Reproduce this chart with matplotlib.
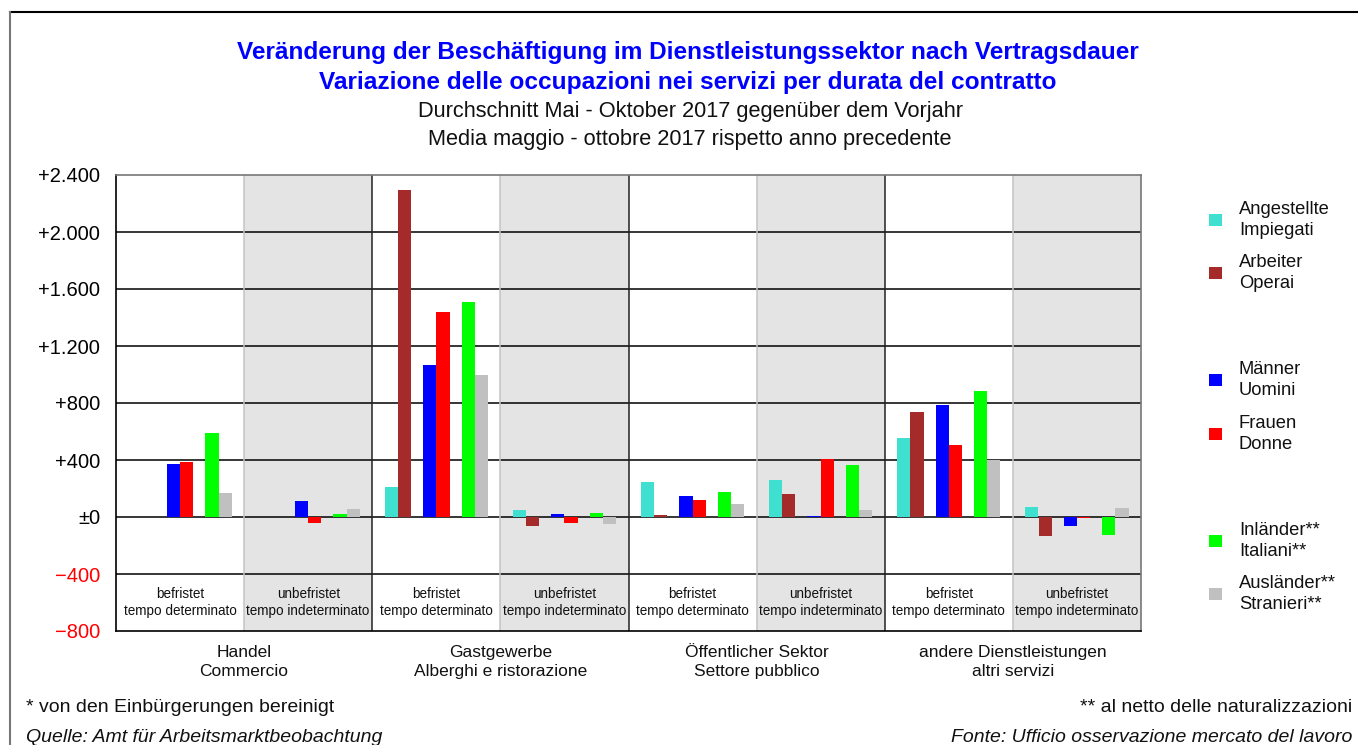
import numpy as np
import matplotlib
matplotlib.use("Agg")
import matplotlib.pyplot as plt
from matplotlib.patches import Rectangle
from matplotlib.lines import Line2D

plt.rcParams['font.family'] = ['Liberation Sans', 'DejaVu Sans']

# ---- data ----
sectors = ["Handel\nCommercio", "Gastgewerbe\nAlberghi e ristorazione",
           "Öffentlicher Sektor\nSettore pubblico", "andere Dienstleistungen\naltri servizi"]
contracts = ["befristet\ntempo determinato", "unbefristet\ntempo indeterminato"]

series_labels = ["Angestellte\nImpiegati", "Arbeiter\nOperai", "Männer\nUomini",
                 "Frauen\nDonne", "Inländer**\nItaliani**", "Ausländer**\nStranieri**"]
nan = np.nan
angestellte = [nan, nan, 208, 47, 249, 259, 551, 70]
arbeiter    = [nan, nan, 2298, -65, 16, 158, 737, -134]
maenner     = [372, 112, 1070, 21, 145, 9, 784, -63]
frauen      = [386, -40, 1437, -42, 120, 409, 504, -7]
inlaender   = [590, 19, 1507, 28, 176, 367, 887, -125]
auslaender  = [168, 56, 995, -51, 92, 52, 401, 61]
series = [angestellte, arbeiter, maenner, frauen, inlaender, auslaender]
colors = ["#40e0d0", "#a52a2a", "#0000ff", "#ff0000", "#00ff00", "#c0c0c0"]

yticks = [-800, -400, 0, 400, 800, 1200, 1600, 2000, 2400]
ytick_labels = ["\u2212800", "\u2212400", "±0", "+400", "+800", "+1.200", "+1.600", "+2.000", "+2.400"]

# ---- figure ----
W, H = 1358, 745
fig = plt.figure(figsize=(W / 100, H / 100), dpi=100)
ax = fig.add_axes([116 / W, 1 - 631 / H, (1141 - 116) / W, (631 - 175) / H])

npan = len(sectors) * 2
ax.set_xlim(0, npan)
ax.set_ylim(-800, 2400)

# shading for unbefristet panels
for i in range(1, npan, 2):
    ax.axvspan(i, i + 1, color="#e4e4e4", zorder=0, lw=0)

# horizontal grid lines
for yv in [-400, 0, 400, 800, 1200, 1600, 2000]:
    ax.axhline(yv, color="black", lw=1.1, zorder=1)

# vertical separators
for i in range(1, npan):
    if i % 2 == 0:
        ax.axvline(i, color="#222222", lw=1.1, zorder=1)
    else:
        ax.axvline(i, color="#c4c4c4", lw=1.1, zorder=1)

# bars
pair_centers = [0.2, 0.5, 0.8]
bw = 0.103
x = np.arange(npan)
for k, (vals, col) in enumerate(zip(series, colors)):
    pc = pair_centers[k // 2]
    off = pc - bw / 2 if k % 2 == 0 else pc + bw / 2
    ax.bar(x + off, vals, width=bw, color=col, zorder=3, lw=0)

# contract labels in the band
for i in range(npan):
    ax.text(i + 0.5, -600, contracts[i % 2], ha="center", va="center",
            fontsize=9.75, color="#111111", linespacing=1.25, zorder=4)

# sector labels below
for s, lab in enumerate(sectors):
    fig.text((116 + (2 * s + 1) * (1141 - 116) / npan) / W, 1 - 662 / H, lab,
             ha="center", va="center", fontsize=12.5, color="#111111", linespacing=1.3)

ax.set_yticks(yticks)
ax.set_yticklabels(ytick_labels, fontsize=14.5)
for t, v in zip(ax.get_yticklabels(), yticks):
    t.set_color("red" if v < 0 else "black")
ax.tick_params(axis="y", length=0, pad=11.5)
ax.set_xticks([])

for sp in ["left", "bottom"]:
    ax.spines[sp].set_color("black")
    ax.spines[sp].set_linewidth(1.2)
for sp in ["top", "right"]:
    ax.spines[sp].set_color("#777777")
    ax.spines[sp].set_linewidth(1.2)

# titles
fig.text(688 / W, 1 - 52 / H, "Veränderung der Beschäftigung im Dienstleistungssektor nach Vertragsdauer",
         ha="center", va="center", fontsize=17.6, fontweight="bold", color="#0000ff")
fig.text(688 / W, 1 - 82 / H, "Variazione delle occupazioni nei servizi per durata del contratto",
         ha="center", va="center", fontsize=17.6, fontweight="bold", color="#0000ff")
fig.text(690 / W, 1 - 111 / H, "Durchschnitt Mai - Oktober 2017 gegenüber dem Vorjahr",
         ha="center", va="center", fontsize=15.7, color="#111111")
fig.text(690 / W, 1 - 140 / H, "Media maggio - ottobre 2017 rispetto anno precedente",
         ha="center", va="center", fontsize=15.7, color="#111111")

# legend (manual)
leg_y = [220, 273, 380, 434, 541, 594]
for lab, col, yy in zip(series_labels, colors, leg_y):
    fig.add_artist(Rectangle((1209 / W, 1 - (yy + 6) / H), 13 / W, 12 / H,
                             transform=fig.transFigure, color=col, lw=0))
    fig.text(1239 / W, 1 - yy / H, lab, ha="left", va="center", fontsize=13.2,
             color="#111111", linespacing=1.35)

# footnotes
fig.text(26 / W, 1 - 708 / H, "* von den Einbürgerungen bereinigt", ha="left", va="center",
         fontsize=14, color="#111111")
fig.text(26 / W, 1 - 737 / H, "Quelle: Amt für Arbeitsmarktbeobachtung", ha="left", va="center",
         fontsize=14, style="italic", color="#111111")
fig.text(1352 / W, 1 - 708 / H, "** al netto delle naturalizzazioni", ha="right", va="center",
         fontsize=14, color="#111111")
fig.text(1352 / W, 1 - 737 / H, "Fonte: Ufficio osservazione mercato del lavoro", ha="right", va="center",
         fontsize=14, style="italic", color="#111111")

# outer frame lines
fig.add_artist(Line2D([10 / W, 1], [1 - 12 / H, 1 - 12 / H], transform=fig.transFigure,
                      color="black", lw=1.5))
fig.add_artist(Line2D([10 / W, 10 / W], [1 - 12 / H, 0], transform=fig.transFigure,
                      color="#777777", lw=1.5))

fig.savefig("out.png", dpi=100)
